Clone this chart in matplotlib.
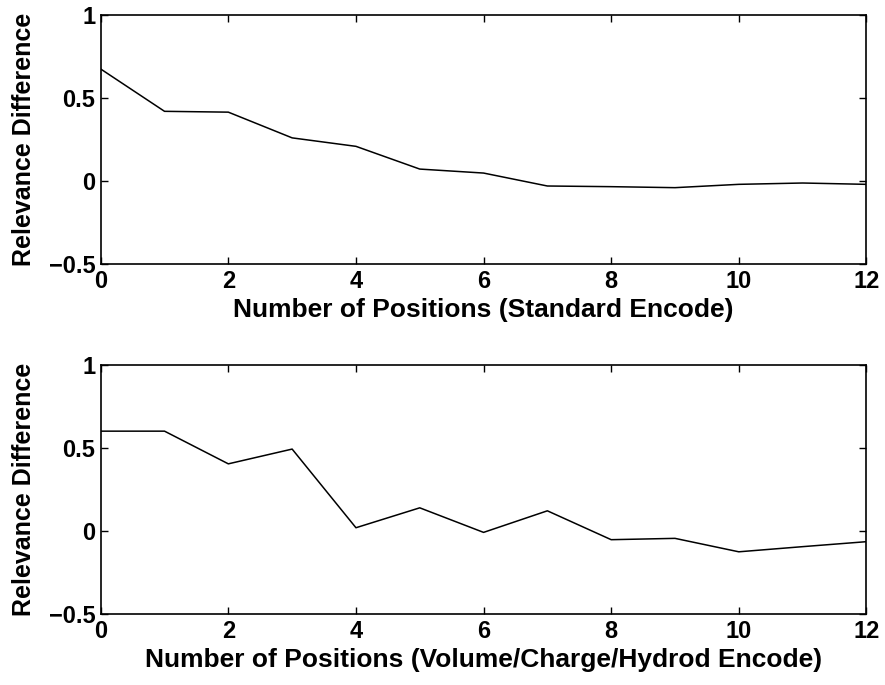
import matplotlib
matplotlib.use("Agg")
import matplotlib.pyplot as plt

positions = list(range(13))
standard = [0.675, 0.42, 0.415, 0.26, 0.209, 0.072, 0.048, -0.03, -0.034,
            -0.04, -0.02, -0.012, -0.02]
vch = [0.602, 0.602, 0.405, 0.494, 0.02, 0.14, -0.008, 0.122, -0.052,
       -0.044, -0.125, -0.094, -0.064]
xlabels = ["Number of Positions (Standard Encode)",
           "Number of Positions (Volume/Charge/Hydrod Encode)"]

plt.rcParams["font.family"] = ["Liberation Sans", "DejaVu Sans"]
plt.rcParams["font.weight"] = "bold"

fig = plt.figure(figsize=(8.85, 6.85), dpi=100)
boxes = [[0.1138, 0.6146, 0.8652, 0.3634], [0.1138, 0.1036, 0.8652, 0.3634]]

for box, y, lab in zip(boxes, [standard, vch], xlabels):
    ax = fig.add_axes(box)
    ax.plot(positions, y, color="black", lw=1.1)
    ax.set_xlim(0, 12)
    ax.set_ylim(-0.5, 1)
    ax.set_xticks(range(0, 13, 2))
    ax.set_yticks([-0.5, 0, 0.5, 1])
    ax.set_yticklabels(["\u22120.5", "0", "0.5", "1"])
    ax.tick_params(direction="in", top=True, right=True, length=5,
                   width=1, labelsize=17, pad=4)
    for lbl in ax.get_xticklabels() + ax.get_yticklabels():
        lbl.set_fontweight("bold")
    for s in ax.spines.values():
        s.set_linewidth(1.2)
    ax.set_xlabel(lab, fontsize=19, fontweight="bold", labelpad=4)
    ax.set_ylabel("Relevance Difference", fontsize=18, fontweight="bold",
                  labelpad=9)

fig.savefig("out.png", dpi=100)
